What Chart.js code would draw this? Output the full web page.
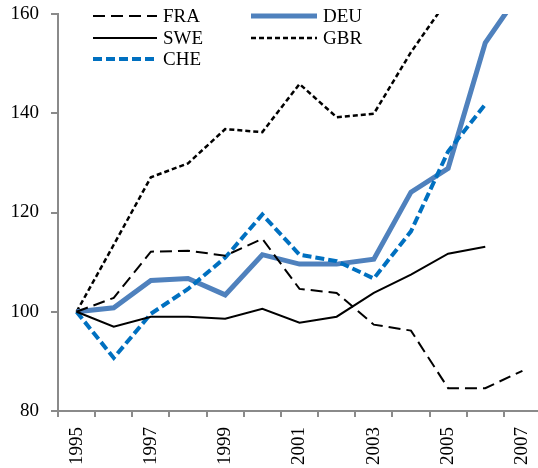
<!DOCTYPE html>
<html>
<head>
<meta charset="utf-8">
<script src="https://cdn.jsdelivr.net/npm/chart.js@4.4.0/dist/chart.umd.min.js"></script>
<style>
  html, body { margin: 0; padding: 0; background: #fff; overflow: hidden; }
  #cadre { width: 538px; height: 468px; overflow: hidden; position: relative; }
  /* un peu plus large que la fenetre : l'axe x sort a droite comme dans l'original */
  #wrap { width: 541px; height: 468px; position: absolute; left: 0; top: 0; }
</style>
</head>
<body>
<div id="cadre"><div id="wrap"><canvas id="graphe"></canvas></div></div>
<script>
var annees = ["1995","1996","1997","1998","1999","2000","2001","2002","2003","2004","2005","2006","2007"];
var fra = [100, 102.8, 112.1, 112.3, 111.3, 114.7, 104.6, 103.8, 97.4, 96.2, 84.6, 84.6, 88.1];
var swe = [100, 97.0, 99.0, 99.0, 98.6, 100.6, 97.8, 99.0, 103.8, 107.5, 111.7, 113.1, null];
var che = [100, 90.7, 99.6, 104.6, 110.9, 119.6, 111.5, 110.2, 106.7, 116.2, 132.3, 141.8, null];
var deu = [100, 100.8, 106.3, 106.7, 103.4, 111.5, 109.6, 109.6, 110.6, 124.1, 128.9, 154.2, 165];
var gbr = [100, 113.5, 127.1, 129.9, 136.8, 136.2, 145.9, 139.2, 139.9, 152.3, 163, null, null];

var police = "'Liberation Serif', 'Times New Roman', serif";
var gris = "#8a8a8a";

// ordre et place des entrees de legende (colonne, ligne)
var placeLegende = {FRA: [0, 0], DEU: [1, 0], SWE: [0, 1], GBR: [1, 1], CHE: [0, 2]};

var legendeDedans = {
  id: "legendeDedans",
  afterDraw: function(chart) {
    var ctx = chart.ctx;
    var colX = [[93, 157], [251, 317]];
    var rowY = [16, 38, 59];
    ctx.save();
    ctx.font = "19px " + police;
    ctx.textBaseline = "middle";
    ctx.fillStyle = "#000";
    chart.data.datasets.forEach(function(ds) {
      var p = placeLegende[ds.label];
      var x0 = colX[p[0]][0], x1 = colX[p[0]][1], y = rowY[p[1]];
      ctx.beginPath();
      ctx.setLineDash(ds.borderDash || []);
      ctx.lineWidth = ds.borderWidth;
      ctx.strokeStyle = ds.borderColor;
      ctx.moveTo(x0, y);
      ctx.lineTo(x1, y);
      ctx.stroke();
      ctx.setLineDash([]);
      ctx.fillText(ds.label, x1 + 6, y + 1);
    });
    ctx.restore();
  }
};

function serie(nom, valeurs, couleur, epaisseur, tirets) {
  return {
    label: nom,
    data: valeurs,
    borderColor: couleur,
    backgroundColor: couleur,
    borderWidth: epaisseur,
    borderDash: tirets,
    pointRadius: 0,
    pointHoverRadius: 0,
    tension: 0,
    fill: false,
    spanGaps: false,
    clip: 0
  };
}

var ctx = document.getElementById("graphe");
var chart = new Chart(ctx, {
  type: "line",
  data: {
    labels: annees,
    datasets: [
      serie("FRA", fra, "#000000", 2, [12, 6]),
      serie("SWE", swe, "#000000", 2, []),
      serie("CHE", che, "#0070C0", 4, [9, 4]),
      serie("DEU", deu, "#4F81BD", 5, []),
      serie("GBR", gbr, "#000000", 2.5, [5, 3])
    ]
  },
  options: {
    responsive: true,
    maintainAspectRatio: false,
    animation: false,
    layout: { padding: { top: 14, right: 0, left: 0, bottom: 0 } },
    plugins: { legend: { display: false }, tooltip: { enabled: false } },
    scales: {
      x: {
        type: "category",
        offset: true,
        afterFit: function(s) { s.height = 57; s.paddingLeft = 0; s.paddingRight = 0; },
        grid: { display: true, drawOnChartArea: false, drawTicks: true, tickLength: 6, color: gris, lineWidth: 2, offset: true },
        border: { display: true, color: gris, width: 2 },
        ticks: {
          autoSkip: false,
          minRotation: 90,
          maxRotation: 90,
          padding: 10,
          color: "#000",
          font: { family: police, size: 19 },
          callback: function(v, i) { return i % 2 === 0 ? annees[i] : ""; }
        }
      },
      y: {
        min: 80,
        max: 160,
        afterFit: function(s) { s.width = 58; s.paddingTop = 0; s.paddingBottom = 0; },
        grid: { display: true, drawOnChartArea: false, drawTicks: true, tickLength: 7, color: gris, lineWidth: 2 },
        border: { display: true, color: gris, width: 2 },
        ticks: { stepSize: 20, padding: 12, color: "#000", font: { family: police, size: 19 } }
      }
    }
  },
  plugins: [legendeDedans]
});
</script>
</body>
</html>
